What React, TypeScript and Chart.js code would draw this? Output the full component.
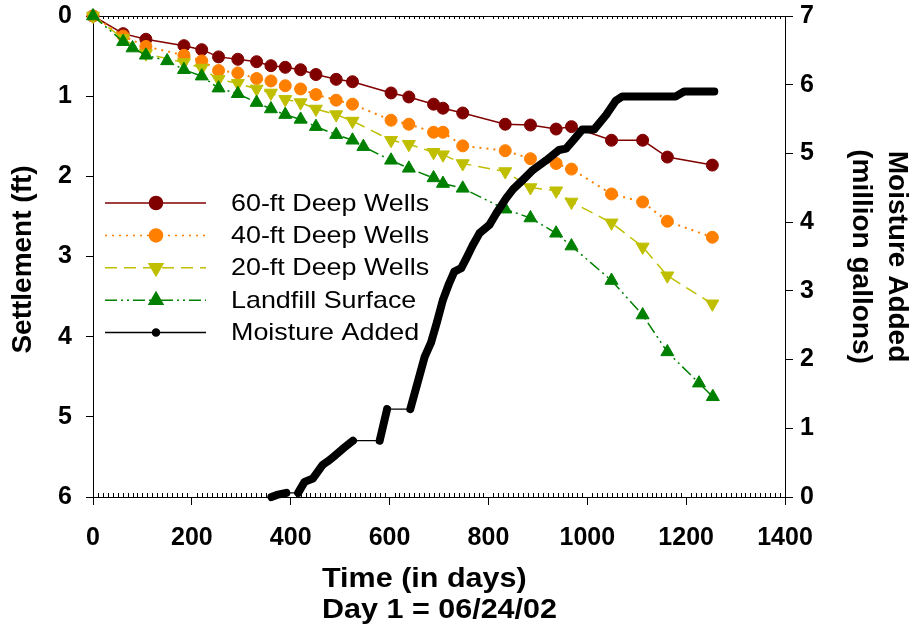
import React, { useEffect, useRef } from 'react';
import { Chart, registerables } from 'chart.js';
import { drawPoint } from 'chart.js/helpers';

Chart.register(...registerables);

const FONT = "'Liberation Sans', Arial, Helvetica, sans-serif";

// ---- Data (days since 06/24/02) ----
const wellDays = [0, 61, 107, 184, 220, 254, 293, 331, 360, 389, 420, 451, 492, 525, 603, 639, 689, 708, 748, 834, 885, 937, 968, 1049, 1112, 1162, 1253];
const deep60 = [0, 0.22, 0.29, 0.37, 0.42, 0.51, 0.54, 0.57, 0.62, 0.64, 0.67, 0.73, 0.79, 0.82, 0.96, 1.01, 1.1, 1.15, 1.21, 1.35, 1.36, 1.41, 1.38, 1.55, 1.55, 1.76, 1.86];
const deep40 = [0, 0.25, 0.38, 0.49, 0.56, 0.68, 0.71, 0.78, 0.81, 0.87, 0.91, 0.98, 1.05, 1.1, 1.3, 1.35, 1.45, 1.45, 1.62, 1.68, 1.78, 1.84, 1.91, 2.22, 2.32, 2.56, 2.76];
const deep20 = [0, 0.28, 0.47, 0.58, 0.65, 0.79, 0.84, 0.91, 0.96, 1.04, 1.08, 1.16, 1.23, 1.31, 1.55, 1.6, 1.7, 1.73, 1.84, 1.94, 2.14, 2.18, 2.32, 2.58, 2.88, 3.24, 3.59];
const surfaceDays = [0, 61, 80, 107, 150, 184, 220, 254, 293, 331, 360, 389, 420, 451, 492, 525, 547, 603, 639, 689, 708, 748, 834, 885, 937, 968, 1049, 1112, 1162, 1226, 1254];
const surface = [0, 0.32, 0.4, 0.49, 0.56, 0.67, 0.75, 0.9, 0.97, 1.08, 1.16, 1.23, 1.29, 1.38, 1.48, 1.55, 1.63, 1.8, 1.9, 2.02, 2.09, 2.15, 2.41, 2.52, 2.71, 2.87, 3.3, 3.73, 4.19, 4.58, 4.75];
const moistureDays = [361, 372, 391, 415, 428, 445, 465, 475, 489, 505, 526, 580, 595, 642, 655, 671, 684, 696, 708, 720, 731, 745, 755, 768, 782, 802, 816, 836, 850, 869, 890, 917, 943, 957, 975, 990, 1014, 1038, 1058, 1071, 1120, 1179, 1196, 1257];
const moisture = [0, 0.03, 0.06, 0.06, 0.22, 0.27, 0.47, 0.52, 0.6, 0.7, 0.82, 0.82, 1.28, 1.28, 1.62, 2.04, 2.25, 2.55, 2.87, 3.1, 3.28, 3.33, 3.47, 3.66, 3.84, 3.96, 4.13, 4.35, 4.48, 4.61, 4.76, 4.9, 5.05, 5.07, 5.22, 5.35, 5.35, 5.56, 5.77, 5.83, 5.83, 5.83, 5.9, 5.9];
// days after which no moisture was recorded until the next reading (thin connector)
const moistureGapStarts = [391, 526, 595];

const seriesLabels = ['60-ft Deep Wells', '40-ft Deep Wells', '20-ft Deep Wells', 'Landfill Surface', 'Moisture Added'];
const xAxisTitle = ['Time (in days)', 'Day 1 = 06/24/02'];
const yAxisTitle = 'Settlement (ft)';
const y1AxisTitle = ['Moisture Added', '(million gallons)'];
const dayMin = 0, dayMax = 1400, dayStep = 200, minorDayStep = 10;
const settleMin = 0, settleMax = 6;
const moistMin = 0, moistMax = 7;

const pts = (xs: number[], ys: number[]) => xs.map((x, i) => ({ x, y: ys[i] }));

// horizontally stretched text (the source artwork is slightly widened)
const wideText = (ctx: any, text: string, x: number, y: number, sx: number) => {
  ctx.save();
  ctx.translate(x, y);
  ctx.scale(sx, 1);
  ctx.fillText(text, 0, 0);
  ctx.restore();
};

const overlayPlugin = {
  id: 'overlay',
  beforeDatasetsDraw(chart: any) {
    const { ctx, chartArea: a, scales } = chart;
    const x = scales.x;
    ctx.save();
    ctx.strokeStyle = '#000';
    ctx.lineWidth = 1;
    ctx.beginPath();
    ctx.moveTo(a.left, a.top + 0.5);
    ctx.lineTo(a.right, a.top + 0.5);
    ctx.stroke();
    ctx.beginPath();
    for (let d = dayMin; d <= dayMax; d += minorDayStep) {
      if (d % dayStep === 0) continue;
      const px = Math.round(x.getPixelForValue(d)) + 0.5;
      ctx.moveTo(px, a.bottom);
      ctx.lineTo(px, a.bottom - 4);
      ctx.moveTo(px, a.top);
      ctx.lineTo(px, a.top + 3);
    }
    ctx.stroke();
    ctx.restore();
  },
  afterDraw(chart: any) {
    const { ctx, chartArea: a } = chart;
    ctx.save();
    // legend
    const rowH = 32.4;
    chart.data.datasets.forEach((ds: any, i: number) => {
      const y = a.top + 187 + i * rowH;
      const x0 = a.left + 12, x1 = a.left + 113, xm = a.left + 63;
      ctx.strokeStyle = ds.borderColor;
      ctx.lineWidth = ds.legendLineWidth;
      ctx.setLineDash(ds.borderDash || []);
      ctx.beginPath();
      ctx.moveTo(x0, y);
      ctx.lineTo(x1, y);
      ctx.stroke();
      ctx.setLineDash([]);
      ctx.fillStyle = ds.backgroundColor;
      ctx.strokeStyle = ds.borderColor;
      drawPoint(ctx, { pointStyle: ds.pointStyle, rotation: ds.pointRotation || 0, radius: ds.legendRadius, borderWidth: 1 }, xm, y);
      ctx.fillStyle = '#000';
      ctx.font = `24px ${FONT}`;
      ctx.textAlign = 'left';
      ctx.textBaseline = 'middle';
      wideText(ctx, ds.label, a.left + 138, y + 1, 1.12);
    });
    // axis titles
    ctx.fillStyle = '#000';
    ctx.font = `bold 28px ${FONT}`;
    ctx.textAlign = 'center';
    const midY = (a.top + a.bottom) / 2;
    ctx.save();
    ctx.translate(23, midY + 3);
    ctx.rotate(-Math.PI / 2);
    ctx.textBaseline = 'middle';
    ctx.fillText(yAxisTitle, 0, 0);
    ctx.restore();
    ctx.save();
    ctx.translate(a.right + 112, midY);
    ctx.rotate(Math.PI / 2);
    ctx.textBaseline = 'middle';
    ctx.fillText(y1AxisTitle[0], 0, 0);
    ctx.fillText(y1AxisTitle[1], 0, 36);
    ctx.restore();
    ctx.textBaseline = 'alphabetic';
    ctx.textAlign = 'left';
    const lx = a.left + 229;
    wideText(ctx, xAxisTitle[0], lx, a.bottom + 90, 1.09);
    wideText(ctx, xAxisTitle[1], lx, a.bottom + 121, 1.09);
    ctx.restore();
  },
};

export default function App() {
  const ref = useRef<HTMLCanvasElement | null>(null);
  useEffect(() => {
    if (!ref.current) return;
    const tickFont = { family: FONT, size: 25, weight: 'bold' as const };
    const plain = (v: any) => String(v);
    const noPadV = (s: any, w: number) => { s.width = w; s.paddingTop = 0; s.paddingBottom = 0; };
    const chart = new Chart(ref.current, {
      type: 'line',
      data: {
        datasets: [
          {
            label: seriesLabels[0], data: pts(wellDays, deep60), yAxisID: 'y',
            borderColor: '#800000', backgroundColor: '#800000', borderWidth: 1.5,
            pointStyle: 'circle', pointRadius: 6, pointBorderWidth: 1, order: 4, clip: false,
            legendLineWidth: 1.5, legendRadius: 6.5,
          } as any,
          {
            label: seriesLabels[1], data: pts(wellDays, deep40), yAxisID: 'y',
            borderColor: '#FF8000', backgroundColor: '#FF8000', borderWidth: 2, borderDash: [2, 5],
            pointStyle: 'circle', pointRadius: 6, pointBorderWidth: 1, order: 3, clip: false,
            legendLineWidth: 1.5, legendRadius: 6.5,
          } as any,
          {
            label: seriesLabels[2], data: pts(wellDays, deep20), yAxisID: 'y',
            borderColor: '#BFBF00', backgroundColor: '#BFBF00', borderWidth: 1.5, borderDash: [12, 7],
            pointStyle: 'triangle', pointRotation: 180, pointRadius: 7.5, pointBorderWidth: 1, order: 2, clip: false,
            legendLineWidth: 1.5, legendRadius: 8,
          } as any,
          {
            label: seriesLabels[3], data: pts(surfaceDays, surface), yAxisID: 'y',
            borderColor: '#008000', backgroundColor: '#008000', borderWidth: 1.5, borderDash: [12, 4, 2, 4, 2, 4],
            pointStyle: 'triangle', pointRadius: 7.5, pointBorderWidth: 1, order: 1, clip: false,
            legendLineWidth: 1.5, legendRadius: 8,
          } as any,
          {
            label: seriesLabels[4], data: pts(moistureDays, moisture), yAxisID: 'y1',
            borderColor: '#000', backgroundColor: '#000', borderWidth: 1.2,
            borderCapStyle: 'round', borderJoinStyle: 'round',
            pointStyle: 'circle', pointRadius: 3.5, pointBorderWidth: 0, order: 0, clip: false,
            segment: { borderWidth: (c: any) => (moistureGapStarts.includes(c.p0.parsed.x) ? 1.2 : 8) },
            legendLineWidth: 1.5, legendRadius: 3.5,
          } as any,
        ],
      },
      options: {
        animation: false,
        responsive: false,
        maintainAspectRatio: false,
        layout: { padding: { top: 16, left: 0, right: 0, bottom: 0 } },
        plugins: { legend: { display: false }, tooltip: { enabled: false } },
        scales: {
          x: {
            type: 'linear', min: dayMin, max: dayMax,
            ticks: { stepSize: dayStep, color: '#000', font: tickFont, padding: 18, maxRotation: 0, autoSkip: false, callback: plain },
            grid: { drawOnChartArea: false, tickLength: 8, color: '#000' },
            border: { display: true, color: '#000', width: 1 },
            afterFit: (s: any) => { s.height = 144; },
          },
          y: {
            type: 'linear', position: 'left', reverse: true, min: settleMin, max: settleMax,
            ticks: { stepSize: 1, color: '#000', font: tickFont, padding: 14, callback: plain },
            grid: { drawOnChartArea: false, tickLength: 7, color: '#000' },
            border: { display: true, color: '#000', width: 1 },
            afterFit: (s: any) => noPadV(s, 93),
          },
          y1: {
            type: 'linear', position: 'right', min: moistMin, max: moistMax,
            ticks: { stepSize: 1, color: '#000', font: tickFont, padding: 7, callback: plain },
            grid: { drawOnChartArea: false, tickLength: 8, color: '#000' },
            border: { display: true, color: '#000', width: 1 },
            afterFit: (s: any) => noPadV(s, 130),
          },
        },
      } as any,
      plugins: [overlayPlugin],
    });
    return () => chart.destroy();
  }, []);
  return (
    <div style={{ position: 'fixed', left: 0, top: 0, width: 915, height: 641, background: '#fff' }}>
      <canvas ref={ref} width={915} height={641} style={{ display: 'block' }} />
    </div>
  );
}
